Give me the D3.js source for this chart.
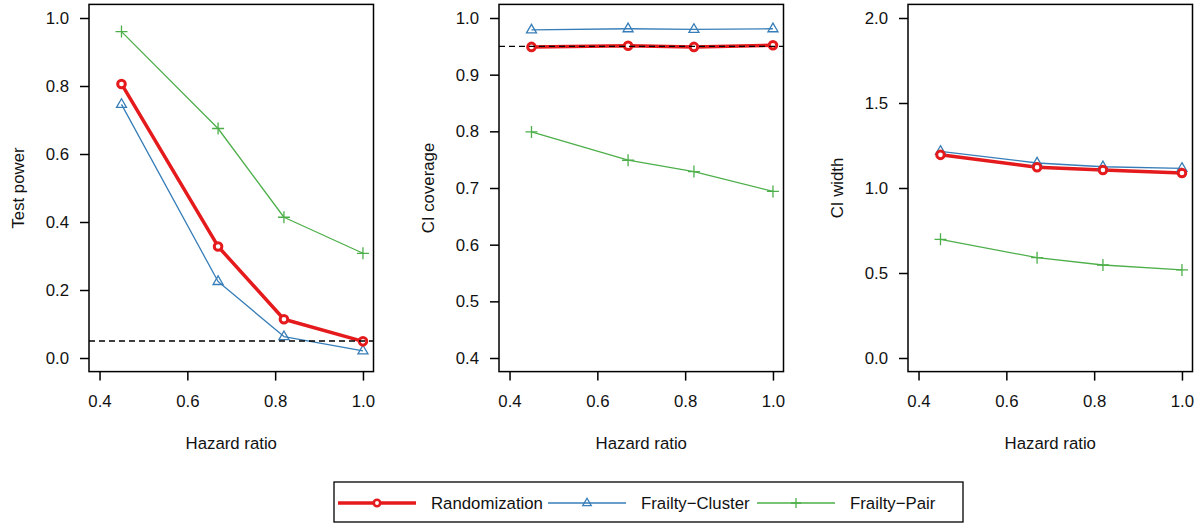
<!DOCTYPE html>
<html>
<head>
<meta charset="utf-8">
<script src="https://cdn.jsdelivr.net/npm/d3@7"></script>
<style>
  body { margin: 0; background: #fff; }
  text { font-family: "Liberation Sans", Arial, Helvetica, sans-serif; fill: #111; }
</style>
</head>
<body>
<div id="chart"></div>
<script>
// hazard ratios on the x axis
const hazard = [0.45, 0.67, 0.82, 1.0];
const methods = ["Randomization", "Frailty\u2212Cluster", "Frailty\u2212Pair"];

// test power
const powerRand = [0.806, 0.328, 0.114, 0.049];
const powerCluster = [0.746, 0.225, 0.063, 0.021];
const powerPair = [0.96, 0.675, 0.414, 0.308];

// CI coverage
const covRand = [0.949, 0.951, 0.949, 0.952];
const covCluster = [0.979, 0.981, 0.980, 0.981];
const covPair = [0.799, 0.749, 0.729, 0.694];

// CI width
const widthRand = [1.195, 1.122, 1.106, 1.088];
const widthCluster = [1.216, 1.147, 1.125, 1.116];
const widthPair = [0.698, 0.590, 0.547, 0.518];

const xTicks = [0.4, 0.6, 0.8, 1.0];
const panels = [
  { label: "Test power", ylim: [0, 1], yTicks: [0, 0.2, 0.4, 0.6, 0.8, 1.0], ref: 0.05,
    series: [powerRand, powerCluster, powerPair] },
  { label: "CI coverage", ylim: [0.4, 1], yTicks: [0.4, 0.5, 0.6, 0.7, 0.8, 0.9, 1.0], ref: 0.95,
    series: [covRand, covCluster, covPair] },
  { label: "CI width", ylim: [0, 2], yTicks: [0, 0.5, 1.0, 1.5, 2.0], ref: null,
    series: [widthRand, widthCluster, widthPair] }
];

const colors = ["#E41A1C", "#377EB8", "#4DAF4A"];
const widths = [3.5, 1.3, 1.3];

const W = 1203, H = 526;
const svg = d3.select("#chart").append("svg").attr("width", W).attr("height", H);

const boxLefts = [89, 499, 908];
const boxW = 284.5, boxTop = 4.4, boxBot = 371.6;

// R style 4% axis extension
function ext(lim) {
  const d = (lim[1] - lim[0]) * 0.04;
  return [lim[0] - d, lim[1] + d];
}

function drawMarker(g, i, x, y, color, s) {
  s = s || 1;
  if (i === 0) {
    g.append("circle").attr("cx", x).attr("cy", y).attr("r", 3.8 * s)
      .attr("fill", "#fff").attr("stroke", color).attr("stroke-width", 3 * s);
  } else if (i === 1) {
    g.append("path")
      .attr("d", `M${x},${y - 5.6 * s}L${x + 5 * s},${y + 3 * s}L${x - 5 * s},${y + 3 * s}Z`)
      .attr("fill", "none").attr("stroke", color).attr("stroke-width", 1.3);
  } else {
    g.append("path")
      .attr("d", `M${x - 6 * s},${y}H${x + 6 * s}M${x},${y - 6 * s}V${y + 6 * s}`)
      .attr("fill", "none").attr("stroke", color).attr("stroke-width", 1.3);
  }
}

panels.forEach((p, k) => {
  const left = boxLefts[k];
  const x = d3.scaleLinear().domain(ext([0.4, 1.0])).range([left, left + boxW]);
  const y = d3.scaleLinear().domain(ext(p.ylim)).range([boxBot, boxTop]);
  const g = svg.append("g");

  // series
  p.series.forEach((vals, i) => {
    const pts = hazard.map((h, j) => [x(h), y(vals[j])]);
    g.append("path").datum(pts)
      .attr("d", d3.line())
      .attr("fill", "none")
      .attr("stroke", colors[i])
      .attr("stroke-width", widths[i])
      .attr("stroke-linejoin", "round");
  });
  // markers drawn last-series first so randomization sits on top
  [2, 1, 0].forEach(i => {
    hazard.forEach((h, j) => drawMarker(g, i, x(h), y(p.series[i][j]), colors[i]));
  });

  if (p.ref !== null) {
    g.append("line")
      .attr("x1", left).attr("x2", left + boxW)
      .attr("y1", y(p.ref)).attr("y2", y(p.ref))
      .attr("stroke", "#000").attr("stroke-width", 1.3)
      .attr("stroke-dasharray", "6,4");
  }

  // box
  g.append("rect").attr("x", left).attr("y", boxTop)
    .attr("width", boxW).attr("height", boxBot - boxTop)
    .attr("fill", "none").attr("stroke", "#000").attr("stroke-width", 1.5);

  // axes
  const ax = g.append("g").attr("transform", `translate(0,${boxBot})`)
    .call(d3.axisBottom(x).tickValues(xTicks).tickFormat(d3.format(".1f"))
      .tickSize(9).tickPadding(14));
  const ay = g.append("g").attr("transform", `translate(${left},0)`)
    .call(d3.axisLeft(y).tickValues(p.yTicks).tickFormat(d3.format(".1f"))
      .tickSize(9).tickPadding(11));
  [ax, ay].forEach(a => {
    a.select(".domain").remove();
    a.selectAll(".tick line").attr("stroke", "#000").attr("stroke-width", 1.5);
    a.selectAll(".tick text").attr("font-size", 16.8).attr("fill", "#111")
      .style("font-family", "'Liberation Sans', Arial, sans-serif");
  });

  g.append("text")
    .attr("x", x(0.7)).attr("y", 449)
    .attr("text-anchor", "middle").attr("font-size", 16.8)
    .text("Hazard ratio");

  g.append("text")
    .attr("transform", `translate(${left - 65},${(boxTop + boxBot) / 2}) rotate(-90)`)
    .attr("text-anchor", "middle").attr("font-size", 16.8)
    .text(p.label);
});

// legend
const leg = svg.append("g");
leg.append("rect").attr("x", 334).attr("y", 482).attr("width", 629).attr("height", 40)
  .attr("fill", "#fff").attr("stroke", "#000").attr("stroke-width", 1.3);
const legX = [338, 548, 757];
methods.forEach((m, i) => {
  const x0 = legX[i], yy = 503;
  leg.append("line").attr("x1", x0).attr("x2", x0 + 78).attr("y1", yy).attr("y2", yy)
    .attr("stroke", colors[i]).attr("stroke-width", widths[i]);
  drawMarker(leg, i, x0 + 39, yy, colors[i], 0.85);
  leg.append("text").attr("x", x0 + 93).attr("y", yy + 6)
    .attr("font-size", 16.8).text(m);
});
</script>
</body>
</html>
